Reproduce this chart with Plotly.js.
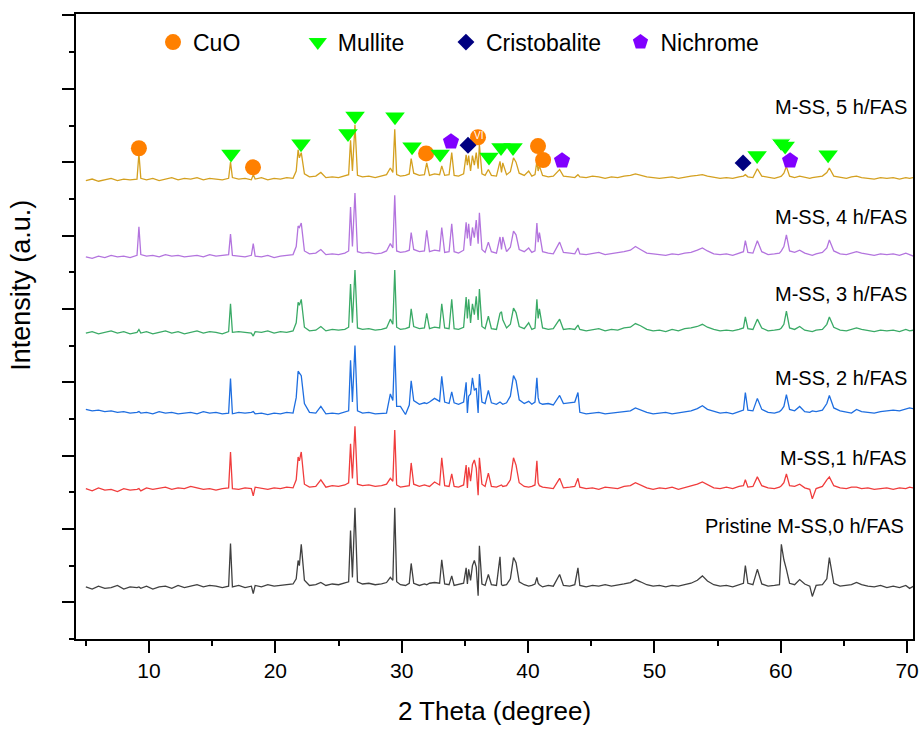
<!DOCTYPE html>
<html>
<head>
<meta charset="utf-8">
<script src="https://cdn.plot.ly/plotly-3.0.1.min.js"></script>
<style>
  html, body { margin: 0; padding: 0; background: #fff; }
  #chart { width: 921px; height: 729px; }
</style>
</head>
<body>
<div id="chart"></div>
<script>
// ---- 2θ grid (degree) shared by all patterns ----
const twoTheta = [
  5, 5.5, 6, 6.5, 7, 7.5, 8, 8.5,
  9.05, 9.2, 9.35, 9.8, 10.3, 10.8, 11.3, 11.8, 12.3, 12.8,
  13.3, 13.8, 14.3, 14.8, 15.3, 15.8, 16.3, 16.45, 16.6, 17.1,
  17.6, 18.1, 18.25, 18.4, 18.9, 19.4, 19.9, 20.4, 20.9, 21.4,
  21.65, 21.8, 21.9, 22.05, 22.3, 22.7, 23.2, 23.6, 24.0, 24.5,
  25.0, 25.5, 25.8, 25.95, 26.1, 26.3, 26.5, 26.9, 27.4, 27.9,
  28.4, 28.8, 29.1, 29.3, 29.45, 29.6, 29.9, 30.3, 30.6, 30.75,
  30.95, 31.4, 31.8, 31.98, 32.2, 32.6, 33.0, 33.17, 33.4, 33.75,
  33.96, 34.15, 34.5, 34.9, 35.1, 35.2, 35.3, 35.45, 35.6, 35.75,
  35.9, 36.05, 36.15, 36.35, 36.6, 36.86, 37.1, 37.5, 37.78, 37.9,
  38.0, 38.3, 38.6, 38.85, 39.05, 39.3, 39.7, 40.05, 40.3, 40.55,
  40.7, 40.8, 40.9, 41.15, 41.6, 42.0, 42.5, 42.8, 43.3, 43.7,
  43.95, 44.1, 44.6, 45.1, 45.6, 46.1, 46.6, 47.1, 47.6, 48.1,
  48.5, 48.9, 49.4, 49.9, 50.4, 50.9, 51.4, 51.9, 52.4, 52.9,
  53.4, 53.8, 54.2, 54.7, 55.2, 55.7, 56.2, 56.7, 57.05, 57.2,
  57.4, 57.8, 58.15, 58.5, 59.0, 59.5, 59.9, 60.05, 60.25, 60.45,
  60.7, 61.1, 61.5, 61.9, 62.3, 62.5, 62.8, 63.3, 63.65, 63.85,
  64.2, 64.7, 65.2, 65.6, 66.0, 66.4, 66.9, 67.4, 67.9, 68.4,
  68.9, 69.4, 69.9, 70.2, 70.5
];

// ---- intensities (a.u.), relative to each pattern's own baseline ----
const pristine0h = [
  1, -2, 2, -1, 0, 3, -2, 1,
  0, 1, -1, 2, -2, 1, 2, -1, 3, 0,
  2, 4, 1, 3, 2, 0, 2, 60, 1, 3,
  0, 2, -8, 3, 1, 4, 2, 3, 4, 5,
  12, 37, 30, 59, 10, 3, 4, 7, 3, 5,
  4, 6, 8, 78, 14, 109, 8, 5, 6, 4,
  5, 7, 14, 10, 109, 8, 4, 3, 6, 33,
  6, 3, 5, 4, 6, 7, 6, 38, 5, 4,
  16, 3, 4, 6, 27, 5, 25, 10, 30, 37,
  28, -11, 57, 5, 3, 18, 4, 3, 42, 4,
  3, 4, 12, 41, 34, 8, 4, 2, 3, 5,
  14, 6, 4, 1, 3, 2, 18, 3, 2, 4,
  27, 3, 1, 3, 2, 4, 2, 3, 5, 7,
  11, 8, 4, 2, 3, 1, 3, 2, 4, 6,
  10, 16, 9, 4, 2, 3, 1, 4, 6, 30,
  6, 4, 25, 5, 2, 3, 4, 59, 38, 25,
  6, 4, 11, 5, 2, -12, 3, 4, 12, 41,
  6, 2, 3, 4, 7, 4, 2, 1, 3, 0,
  2, 0, 3, -1, 2
];
const fas1h = [
  2, -1, 3, 0, 1, -2, 2, 0,
  1, 2, -1, 3, 1, 2, 4, 1, 3, 2,
  5, 3, 1, 2, 0, 2, 3, 52, 2, 1,
  3, 2, -8, 4, 2, 1, 3, 2, 4, 3,
  14, 45, 40, 52, 8, 4, 5, 14, 4, 6,
  5, 7, 10, 63, 16, 87, 8, 6, 7, 5,
  6, 8, 16, 12, 82, 7, 4, 5, 6, 37,
  8, 5, 7, 6, 5, 11, 7, 44, 6, 5,
  22, 5, 4, 7, 34, 3, 31, 12, 35, 41,
  30, -7, 44, 8, 5, 23, 5, 4, 6, 7,
  5, 6, 14, 44, 34, 10, 5, 4, 5, 7,
  40, 10, 6, 4, 3, 2, 16, 3, 4, 5,
  16, 4, 2, 3, 1, 4, 3, 2, 5, 6,
  10, 7, 3, 1, 3, 2, 4, 1, 3, 5,
  8, 11, 7, 3, 2, 4, 2, 5, 6, 14,
  4, 5, 18, 6, 3, 2, 4, 6, 10, 22,
  6, 5, 8, 3, 1, -12, 2, 5, 14, 18,
  6, 3, 2, 4, 4, 2, 3, 1, 2, 3,
  1, 3, 2, 4, 3
];
const fas2h = [
  4, 2, 3, 1, 2, 0, 1, -1,
  0, 1, -1, 0, -2, 1, -1, 0, -2, -1,
  0, -2, 1, -1, 0, -2, -1, 46, -2, 0,
  -1, 0, 1, -2, -1, -3, -1, -2, 0, -1,
  20, 56, 53, 50, 12, 0, -1, 8, -2, -1,
  -2, 0, 2, 71, 14, 91, 2, -1, 0, -2,
  -2, -1, 25, 16, 91, 8, 8, -3, 10, 43,
  16, 11, 13, 12, 14, 19, 15, 49, 14, 12,
  28, 13, 11, 14, 41, -1, 22, 25, 47, 30,
  33, -1, 52, 14, 12, 30, 13, 11, 14, 12,
  11, 13, 22, 50, 43, 17, 12, 15, 11, 14,
  47, 20, 13, 11, 12, 10, 23, 12, 13, 14,
  27, 0, -2, -1, 0, -2, -1, 0, 1, 2,
  6, 3, 0, -2, -1, 0, -2, -1, 1, 2,
  5, 9, 4, 1, -1, 0, -2, 1, 3, 27,
  3, 2, 19, 4, 0, -1, 1, 3, 8, 24,
  4, 2, 8, 1, 0, 2, 1, 3, 12, 23,
  6, 2, 0, -1, 4, 1, 0, -1, 1, 2,
  3, 2, 4, 6, 5
];
const fas3h = [
  0, 2, -1, 1, 3, 0, 2, -1,
  1, 5, 0, 2, -1, 1, 3, 0, 2, -1,
  1, 3, 0, 2, 1, -1, 2, 40, 1, 2,
  1, 0, -4, 2, 1, 3, 0, 2, 1, 3,
  14, 42, 38, 46, 8, 3, 4, 9, 3, 5,
  4, 5, 8, 67, 14, 86, 7, 5, 6, 4,
  5, 7, 19, 12, 86, 8, 5, 6, 8, 33,
  9, 6, 7, 27, 6, 8, 7, 40, 7, 6,
  46, 6, 5, 8, 49, 20, 46, 14, 40, 25,
  50, 18, 60, 9, 6, 23, 6, 5, 27, 29,
  18, 7, 12, 34, 28, 9, 6, 14, 5, 7,
  46, 20, 33, 7, 5, 6, 19, 5, 6, 5,
  11, 5, 3, 4, 6, 3, 5, 4, 7, 8,
  13, 10, 5, 3, 4, 2, 5, 3, 6, 7,
  9, 12, 8, 5, 3, 4, 3, 5, 7, 22,
  6, 5, 19, 7, 3, 4, 5, 7, 12, 30,
  7, 5, 9, 4, 3, 2, 4, 5, 12, 22,
  8, 4, 3, 5, 7, 5, 3, 2, 4, 3,
  4, 2, 5, 3, 4
];
const fas4h = [
  0, -2, 1, -1, 2, 0, 1, -1,
  2, 41, 3, 1, 2, 0, 3, 1, 2, 0,
  1, 2, 0, 3, 1, 2, 3, 31, 2, 1,
  0, 2, 18, 1, 0, 2, -1, 1, 2, 3,
  14, 42, 40, 46, 8, 4, 5, 10, 3, 4,
  3, 5, 8, 68, 14, 87, 7, 5, 6, 4,
  5, 8, 18, 12, 84, 8, 6, 7, 9, 33,
  10, 7, 8, 36, 7, 9, 8, 40, 6, 7,
  45, 7, 5, 9, 47, 25, 45, 15, 40, 26,
  50, 18, 60, 10, 6, 20, 7, 5, 27, 10,
  27, 7, 13, 35, 30, 10, 7, 12, 6, 8,
  46, 20, 33, 7, 5, 4, 20, 6, 5, 4,
  12, 4, 3, 5, 6, 3, 4, 5, 7, 9,
  14, 10, 5, 4, 3, 2, 4, 3, 5, 6,
  9, 12, 8, 4, 3, 4, 2, 5, 7, 22,
  6, 5, 22, 7, 3, 4, 5, 8, 14, 30,
  8, 6, 9, 5, 3, 2, 4, 6, 12, 23,
  8, 4, 3, 5, 7, 5, 3, 2, 4, 3,
  4, 2, 5, 3, 1
];
const fas5h = [
  -1, 1, -2, 0, 2, -1, 1, 0,
  1, 36, 2, 0, 2, -1, 1, 3, 0, 2,
  1, 3, 0, 2, 1, 0, 2, 24, 3, 1,
  2, 0, 7, 1, 3, 0, 2, 1, 3, 2,
  12, 41, 30, 37, 8, 4, 5, 10, 3, 4,
  3, 5, 7, 54, 12, 75, 6, 4, 5, 3,
  5, 7, 16, 10, 69, 7, 5, 6, 8, 29,
  9, 6, 7, 23, 6, 8, 7, 19, 6, 7,
  37, 6, 5, 8, 34, 20, 33, 12, 33, 20,
  37, 15, 48, 8, 6, 14, 6, 5, 25, 10,
  23, 7, 11, 30, 24, 9, 6, 12, 5, 7,
  25, 12, 19, 6, 4, 5, 14, 5, 4, 3,
  7, 4, 3, 5, 4, 2, 4, 3, 5, 6,
  8, 6, 4, 3, 2, 3, 4, 2, 4, 5,
  6, 7, 5, 3, 2, 3, 2, 4, 5, 7,
  4, 3, 15, 5, 3, 2, 4, 5, 9, 18,
  5, 3, 5, 4, 2, 3, 4, 5, 10, 16,
  5, 3, 2, 4, 5, 3, 2, 1, 3, 2,
  3, 1, 3, 2, 3
];

const sampleLabels = ['Pristine M-SS,0 h/FAS', 'M-SS,1 h/FAS', 'M-SS, 2 h/FAS',
                      'M-SS, 3 h/FAS', 'M-SS, 4 h/FAS', 'M-SS, 5 h/FAS'];
const sampleSeries = [pristine0h, fas1h, fas2h, fas3h, fas4h, fas5h];
const stackOffsets = [20, 153, 259, 367, 471, 576];
const labelY = [104, 197, 306, 420, 525, 675];

// ---- phase markers (peak positions on the 5 h pattern) ----
const phaseNames = ['CuO', 'Mullite', 'Cristobalite', 'Nichrome'];
const cuoX = [9.2, 18.23, 31.93, 36.04, 40.79, 41.19];
const cuoY = [619, 593, 612, 634, 622, 603];
const mulliteX = [16.49, 22.03, 25.75, 26.31, 29.47, 30.82, 33.04, 36.91, 37.86, 38.81, 58.13, 60.03, 60.35, 63.75];
const mulliteY = [611, 625, 639, 663, 662, 621, 611, 607, 620, 620, 609, 626, 622, 610];
const cristobaliteX = [35.25, 57.02];
const cristobaliteY = [623, 599];
const nichromeX = [33.9, 42.69, 60.74];
const nichromeY = [628, 602, 602];

const xTicks = [10, 20, 30, 40, 50, 60, 70];

// ---- styles ----
const lineColors = ['#404040', '#F03C3C', '#1E6EE0', '#3AAA66', '#B374DE', '#D4A020'];
const FONT = 'Liberation Sans, Arial, Helvetica, sans-serif';

const traces = [];
sampleSeries.forEach((s, i) => {
  traces.push({
    type: 'scatter', mode: 'lines',
    x: twoTheta, y: s.map(v => v + stackOffsets[i]),
    line: { color: lineColors[i], width: 1.3 },
    name: sampleLabels[i], showlegend: false, hoverinfo: 'skip'
  });
});

traces.push({
  type: 'scatter', mode: 'markers', x: cuoX, y: cuoY, name: phaseNames[0],
  marker: { symbol: 'circle', size: 16, color: '#FF8000' }, legend: 'legend'
});
traces.push({
  type: 'scatter', mode: 'markers', x: mulliteX, y: mulliteY, name: phaseNames[1],
  marker: { symbol: 'triangle-down', size: 17, color: '#00FF00',
            line: { color: '#FFFFFF', width: mulliteX.map(v => (v === 60.03 ? 1 : 0)) } },
  legend: 'legend2'
});
traces.push({
  type: 'scatter', mode: 'markers', x: cristobaliteX, y: cristobaliteY, name: phaseNames[2],
  marker: { symbol: 'diamond', size: 13, color: '#000080' }, legend: 'legend3'
});
traces.push({
  type: 'scatter', mode: 'markers', x: nichromeX, y: nichromeY, name: phaseNames[3],
  marker: { symbol: 'pentagon', size: 17, color: '#8000FF' }, legend: 'legend4'
});

const legendBase = {
  orientation: 'h', y: 0.955, yanchor: 'middle', xanchor: 'left',
  bgcolor: 'rgba(0,0,0,0)', borderwidth: 0,
  font: { family: FONT, size: 23, color: '#000' }
};

const annotations = sampleLabels.map((t, i) => ({
  xref: 'paper', yref: 'y', x: i === 0 ? 0.992 : 0.995, y: labelY[i],
  xanchor: 'right', yanchor: 'middle', text: t, showarrow: false,
  font: { family: FONT, size: 20, color: '#000' }
}));
annotations.push({
  xref: 'x', yref: 'y', x: 36.04, y: 637, text: 'VI', showarrow: false,
  font: { family: FONT, size: 10, color: '#FFFFFF' }
});
// y-axis title
annotations.push({
  xref: 'paper', yref: 'paper', x: -0.065, y: 0.566, xanchor: 'center', yanchor: 'middle',
  text: 'Intensity (a.u.)', textangle: -90, showarrow: false,
  font: { family: FONT, size: 27, color: '#000' }
});

const layout = {
  width: 921, height: 729,
  margin: { l: 76, r: 8, t: 14, b: 90 },
  paper_bgcolor: '#fff', plot_bgcolor: '#fff',
  font: { family: FONT, color: '#000' },
  hovermode: false,
  xaxis: {
    range: [4.22, 70.47], tickvals: xTicks, ticktext: xTicks.map(String),
    ticks: 'outside', ticklen: 12, tickwidth: 2, tickcolor: '#000',
    minor: { dtick: 5, tick0: 5, ticks: 'outside', ticklen: 5, tickwidth: 2, tickcolor: '#000', showgrid: false },
    showline: true, linewidth: 2, linecolor: '#000', mirror: true,
    showgrid: false, zeroline: false,
    tickfont: { family: FONT, size: 21, color: '#000' },
    title: { text: '2 Theta (degree)', font: { family: FONT, size: 26, color: '#000' }, standoff: 21 }
  },
  yaxis: {
    range: [-50, 802], dtick: 100, tick0: 0,
    ticks: 'outside', ticklen: 12, tickwidth: 2, tickcolor: '#000',
    minor: { dtick: 100, tick0: 50, ticks: 'outside', ticklen: 5, tickwidth: 2, tickcolor: '#000', showgrid: false },
    showticklabels: false,
    showline: true, linewidth: 2, linecolor: '#000', mirror: true,
    showgrid: false, zeroline: false
  },
  legend: Object.assign({}, legendBase, { x: 0.0920 }),
  legend2: Object.assign({}, legendBase, { x: 0.2650 }),
  legend3: Object.assign({}, legendBase, { x: 0.4420 }),
  legend4: Object.assign({}, legendBase, { x: 0.6505 }),
  annotations: annotations
};

Plotly.newPlot('chart', traces, layout, { displayModeBar: false, staticPlot: true });
</script>
</body>
</html>
